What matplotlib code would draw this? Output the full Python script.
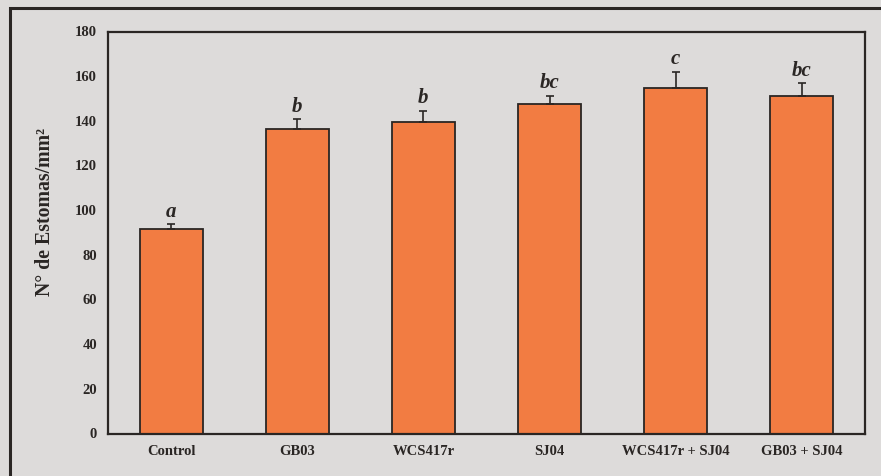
import matplotlib
matplotlib.use("Agg")
import matplotlib.pyplot as plt
from matplotlib.patches import Rectangle

# stomatal density per treatment (mean, upper error, significance group)
treatments = ["Control", "GB03", "WCS417r", "SJ04", "WCS417r + SJ04", "GB03 + SJ04"]
stomata = [91.7, 136.2, 139.6, 147.4, 154.9, 151.1]
errors = [2.0, 4.5, 4.8, 3.9, 7.1, 5.7]
groups = ["a", "b", "b", "bc", "c", "bc"]
y_ticks = [0, 20, 40, 60, 80, 100, 120, 140, 160, 180]

bg = "#dddbda"
bar_color = "#f27c42"
ink = "#2a2624"

plt.rcParams["font.family"] = ["Liberation Serif", "DejaVu Serif"]

fig = plt.figure(figsize=(8.81, 4.76), dpi=100)
fig.patch.set_facecolor(bg)

# outer frame running off the right and bottom edges
fig.patches.append(Rectangle((10 / 881, -0.05), 1.0, 1.05 - 8 / 476,
                             transform=fig.transFigure, fill=False,
                             edgecolor=ink, linewidth=2.2))

ax = fig.add_axes([108 / 881, 42.5 / 476, 757 / 881, 402 / 476])
ax.set_facecolor(bg)

x = range(len(treatments))
ax.bar(x, stomata, width=0.5, color=bar_color, edgecolor=ink, linewidth=1.3,
       zorder=2)
ax.errorbar(x, stomata, yerr=[[0] * len(errors), errors], fmt="none",
            ecolor=ink, elinewidth=1.2, capsize=3, capthick=1.2, zorder=3)

for xi, v, e, g in zip(x, stomata, errors, groups):
    ax.text(xi, v + e + 1.2, g, ha="center", va="bottom", fontsize=15,
            fontweight="bold", fontstyle="italic", color=ink)

ax.set_xlim(-0.5, 5.5)
ax.set_ylim(0, 180)
ax.set_yticks(y_ticks)
ax.set_xticks(list(x))
ax.set_xticklabels(treatments)
ax.tick_params(axis="both", length=0, labelsize=10.5, colors=ink)
ax.tick_params(axis="y", pad=8)
ax.tick_params(axis="x", pad=8)
for lbl in ax.get_xticklabels() + ax.get_yticklabels():
    lbl.set_fontweight("bold")

ax.set_ylabel("N° de Estomas/mm²", fontsize=14.3, fontweight="bold",
              color=ink)
ax.yaxis.set_label_coords(-0.07, 0.551)

for side in ax.spines.values():
    side.set_linewidth(1.6)
    side.set_color(ink)

fig.savefig("out.png", dpi=100, facecolor=bg)
